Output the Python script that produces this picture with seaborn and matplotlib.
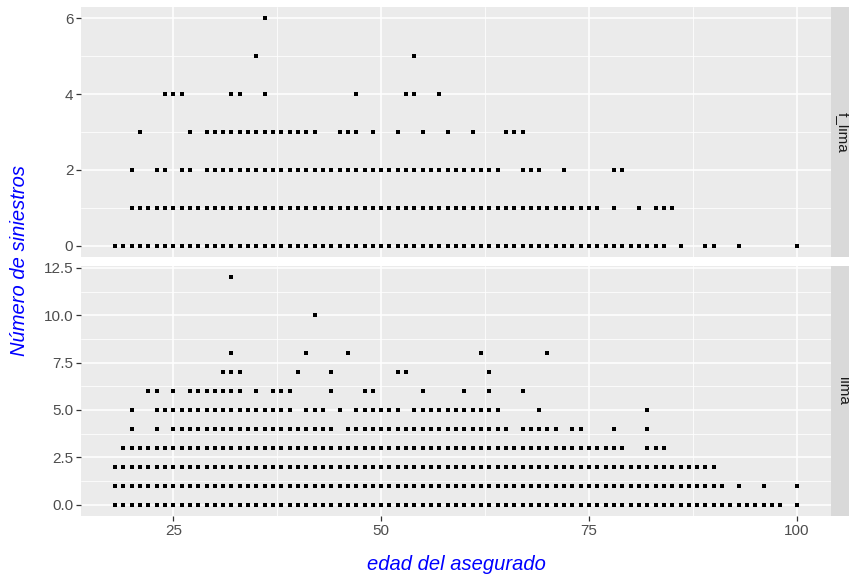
import matplotlib
matplotlib.use("Agg")
import matplotlib.pyplot as plt
from matplotlib.patches import Rectangle
from matplotlib.ticker import FixedLocator
import numpy as np
import pandas as pd
import seaborn as sns

# ---------------- data (ages observed at each claim count) ----------------
panel_names = ["f_lima", "lima"]

# panel f_lima
flima_0 = [18, 19, 20, 21, 22, 23, 24, 25, 26, 27, 28, 29, 30, 31, 32, 33, 34, 35, 36, 37, 38, 39, 40,
           41, 42, 43, 44, 45, 46, 47, 48, 49, 50, 51, 52, 53, 54, 55, 56, 57, 58, 59, 60, 61, 62, 63,
           64, 65, 66, 67, 68, 69, 70, 71, 72, 73, 74, 75, 76, 77, 78, 79, 80, 81, 82, 83, 84,
           86, 89, 90, 93, 100]
flima_1 = [20, 21, 22, 23, 24, 25, 26, 27, 28, 29, 30, 31, 32, 33, 34, 35, 36, 37, 38, 39, 40, 41, 42,
           43, 44, 45, 46, 47, 48, 49, 50, 51, 52, 53, 54, 55, 56, 57, 58, 59, 60, 61, 62, 63, 64, 65,
           66, 67, 68, 69, 70, 71, 72, 73, 74, 75, 76, 78, 81, 83, 84, 85]
flima_2 = [20, 23, 24, 26, 27, 29, 30, 31, 32, 33, 34, 35, 36, 37, 38, 39, 40, 41, 42, 43, 44, 45, 46,
           47, 48, 49, 50, 51, 52, 53, 54, 55, 56, 57, 58, 59, 60, 61, 62, 63, 64, 67, 68, 69, 72, 78, 79]
flima_3 = [21, 27, 29, 30, 31, 32, 33, 34, 35, 36, 37, 38, 39, 40, 41, 42, 45, 46, 47, 49, 52, 55, 58,
           61, 65, 66, 67]
flima_4 = [24, 25, 26, 32, 33, 36, 47, 53, 54, 57]
flima_5 = [35, 54]
flima_6 = [36]

# panel lima
lima_0 = [18, 19, 20, 21, 22, 23, 24, 25, 26, 27, 28, 29, 30, 31, 32, 33, 34, 35, 36, 37, 38, 39, 40,
          41, 42, 43, 44, 45, 46, 47, 48, 49, 50, 51, 52, 53, 54, 55, 56, 57, 58, 59, 60, 61, 62, 63,
          64, 65, 66, 67, 68, 69, 70, 71, 72, 73, 74, 75, 76, 77, 78, 79, 80, 81, 82, 83, 84, 85, 86,
          87, 88, 89, 90, 91, 92, 93, 94, 95, 96, 97, 98, 100]
lima_1 = [18, 19, 20, 21, 22, 23, 24, 25, 26, 27, 28, 29, 30, 31, 32, 33, 34, 35, 36, 37, 38, 39, 40,
          41, 42, 43, 44, 45, 46, 47, 48, 49, 50, 51, 52, 53, 54, 55, 56, 57, 58, 59, 60, 61, 62, 63,
          64, 65, 66, 67, 68, 69, 70, 71, 72, 73, 74, 75, 76, 77, 78, 79, 80, 81, 82, 83, 84, 85, 86,
          87, 88, 89, 90, 91, 93, 96, 100]
lima_2 = [18, 19, 20, 21, 22, 23, 24, 25, 26, 27, 28, 29, 30, 31, 32, 33, 34, 35, 36, 37, 38, 39, 40,
          41, 42, 43, 44, 45, 46, 47, 48, 49, 50, 51, 52, 53, 54, 55, 56, 57, 58, 59, 60, 61, 62, 63,
          64, 65, 66, 67, 68, 69, 70, 71, 72, 73, 74, 75, 76, 77, 78, 79, 80, 81, 82, 83, 84, 85, 86,
          87, 88, 89, 90]
lima_3 = [19, 20, 21, 22, 23, 24, 25, 26, 27, 28, 29, 30, 31, 32, 33, 34, 35, 36, 37, 38, 39, 40,
          41, 42, 43, 44, 45, 46, 47, 48, 49, 50, 51, 52, 53, 54, 55, 56, 57, 58, 59, 60, 61, 62, 63,
          64, 65, 66, 67, 68, 69, 70, 71, 72, 73, 74, 75, 76, 77, 78, 79, 82, 83, 84]
lima_4 = [20, 23, 25, 26, 27, 28, 29, 30, 31, 32, 33, 34, 35, 36, 37, 38, 39, 40, 41, 42, 43, 44,
          46, 47, 48, 49, 50, 51, 52, 53, 54, 55, 56, 57, 58, 59, 60, 61, 62, 63, 64, 65,
          67, 68, 69, 70, 71, 73, 74, 78, 82]
lima_5 = [20, 23, 24, 25, 26, 27, 28, 29, 30, 31, 32, 33, 34, 35, 36, 37, 38, 39, 41, 42, 43, 45,
          47, 48, 49, 50, 51, 52, 54, 55, 56, 57, 58, 59, 60, 61, 62, 63, 64, 69, 82]
lima_6 = [22, 23, 25, 27, 28, 29, 30, 31, 32, 33, 35, 37, 38, 39, 44, 48, 49, 55, 60, 63, 67]
lima_7 = [31, 32, 33, 40, 44, 52, 53, 63]
lima_8 = [32, 41, 46, 62, 70]
lima_10 = [42]
lima_12 = [32]

x_ticks = [25, 50, 75, 100]
y_ticks_flima = [0, 2, 4, 6]
y_ticks_lima = [0.0, 2.5, 5.0, 7.5, 10.0, 12.5]
y_ticklabels_lima = ["0.0", "2.5", "5.0", "7.5", "10.0", "12.5"]

x_label = "edad del asegurado"
y_label = "Número de siniestros"

# ---------------- build long table ----------------
rows = []
for zona, groups in [("f_lima", {0: flima_0, 1: flima_1, 2: flima_2, 3: flima_3,
                                 4: flima_4, 5: flima_5, 6: flima_6}),
                     ("lima", {0: lima_0, 1: lima_1, 2: lima_2, 3: lima_3, 4: lima_4,
                               5: lima_5, 6: lima_6, 7: lima_7, 8: lima_8, 10: lima_10,
                               12: lima_12})]:
    for n, ages in groups.items():
        for a in ages:
            rows.append({"zona": zona, "edad": a, "siniestros": n})
df = pd.DataFrame(rows)

# ---------------- style ----------------
sns.set_theme(style="darkgrid")
plt.rcParams['font.family'] = ['Liberation Sans', 'DejaVu Sans']

W, H = 849, 578
fig = plt.figure(figsize=(W / 100, H / 100), dpi=100)
fig.patch.set_facecolor("white")


def ax_at(x0, y0, x1, y1):
    return fig.add_axes([x0 / W, 1 - y1 / H, (x1 - x0) / W, (y1 - y0) / H])


ax1 = ax_at(81, 7, 831, 257)
ax2 = ax_at(81, 266, 831, 516)

x_lim = (13.9, 104.1)
x_minor = [12.5, 37.5, 62.5, 87.5]

specs = [
    (ax1, "f_lima", (-0.3, 6.3), y_ticks_flima, [str(t) for t in y_ticks_flima], [1, 3, 5]),
    (ax2, "lima", (-0.6, 12.6), y_ticks_lima, y_ticklabels_lima, [1.25, 3.75, 6.25, 8.75, 11.25]),
]

for ax, zona, ylim, yt, ytl, yminor in specs:
    ax.set_facecolor("#EBEBEB")
    sub = df[df["zona"] == zona]
    sns.scatterplot(data=sub, x="edad", y="siniestros", ax=ax, color="black",
                    s=5, marker="s", linewidth=0, zorder=3, legend=False)
    ax.set_xlim(*x_lim)
    ax.set_ylim(*ylim)
    ax.xaxis.set_major_locator(FixedLocator(x_ticks))
    ax.xaxis.set_minor_locator(FixedLocator(x_minor))
    ax.yaxis.set_major_locator(FixedLocator(yt))
    ax.yaxis.set_minor_locator(FixedLocator(yminor))
    ax.set_yticklabels(ytl)
    ax.grid(which="major", color="white", linewidth=1.1)
    ax.grid(which="minor", color="white", linewidth=0.55)
    ax.set_axisbelow(True)
    for sp in ax.spines.values():
        sp.set_visible(False)
    ax.tick_params(axis="both", which="major", length=3.5, width=0.9, color="#333333",
                   labelcolor="#4D4D4D", labelsize=11, pad=2, left=True, bottom=True)
    ax.tick_params(axis="both", which="minor", length=0)
    ax.set_xlabel("")
    ax.set_ylabel("")

ax1.tick_params(axis="x", which="major", bottom=False, labelbottom=False)
ax2.set_xticklabels([str(t) for t in x_ticks])

# facet strips on the right
for (y0, y1), name in [((7, 257), "f_lima"), ((266, 516), "lima")]:
    fig.patches.append(Rectangle((831 / W, 1 - y1 / H), 18 / W, (y1 - y0) / H,
                                 transform=fig.transFigure, facecolor="#D9D9D9",
                                 edgecolor="none", zorder=0))
    fig.text(843 / W, 1 - ((y0 + y1) / 2) / H, name, rotation=-90, ha="center", va="center",
             color="#1A1A1A", fontsize=11)

fig.text(456 / W, 1 - 565 / H, x_label, ha="center", va="center", color="#0000FF",
         style="italic", fontsize=14.5)
fig.text(20 / W, 1 - 261 / H, y_label, ha="center", va="center", rotation=90,
         color="#0000FF", style="italic", fontsize=14.5)

fig.savefig("out.png", dpi=100)
